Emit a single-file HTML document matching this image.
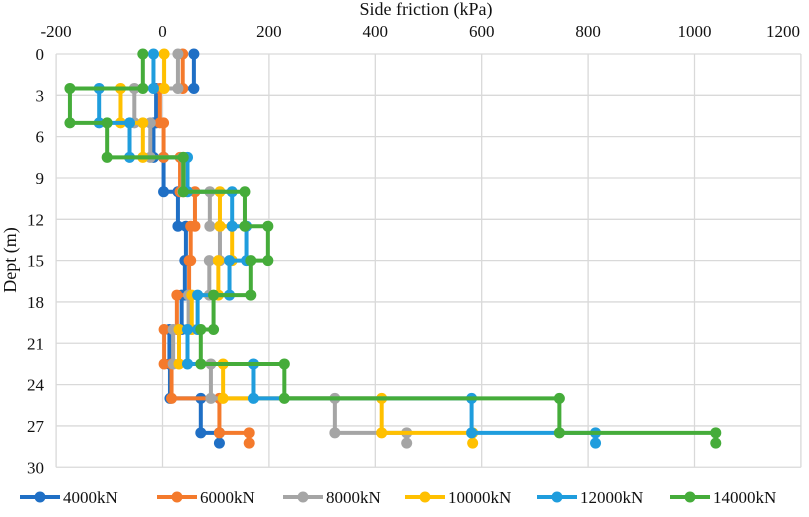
<!DOCTYPE html>
<html><head><meta charset="utf-8"><style>
body{margin:0;background:#fff}
svg text{font-family:"Liberation Serif",serif;fill:#111}
</style></head><body>
<svg id="c" width="809" height="512">
<text x="426" y="15" font-size="18" text-anchor="middle">Side  friction (kPa)</text>
<text x="0" y="0" font-size="18" text-anchor="middle" transform="translate(16,260) rotate(-90)">Dept (m)</text>
</svg>
<script>
const xTicks=[-200,0,200,400,600,800,1000,1200];
const yTicks=[0,3,6,9,12,15,18,21,24,27,30];
const depths=[0,2.5,5,7.5,10,12.5,15,17.5,20,22.5,25,27.5,28.25];
const seriesNames=["4000kN","6000kN","8000kN","10000kN","12000kN","14000kN"];
const s4000=[59,-12,-17,2,29,44,42,36,13,14,72,107];
const s6000=[38,-5,2,33,61,53,50,27,3,17,107,163];
const s8000=[29,-53,-23,38,89,108,88,49,20,91,324,459];
const s10000=[3,-79,-37,40,108,131,105,55,31,114,412,583];
const s12000=[-17,-119,-62,47,131,158,126,66,47,171,581,814];
const s14000=[-37,-174,-104,39,155,198,166,96,72,229,746,1040];
const seriesVals=[s4000,s6000,s8000,s10000,s12000,s14000];
const colors=["#1f6fc5","#f47a2c","#a5a5a5","#ffc000","#1f9ddd","#45ac3a"];
const X=v=>162.5+(v)*0.532, Y=d=>54+d*13.775;
const svg=document.getElementById('c'),NS="http://www.w3.org/2000/svg";
function mk(t,a,p){const e=document.createElementNS(NS,t);for(const k in a)e.setAttribute(k,a[k]);(p||svg).appendChild(e);return e;}
xTicks.forEach((v,i)=>{
 const l=mk('line',{x1:X(v),x2:X(v),y1:Y(0),y2:Y(30),stroke:'#d9d9d9','stroke-width':1.3});
 
 
 const last=i===xTicks.length-1;
 const t=mk('text',{x:last?800:X(v),y:37,'font-size':17,'text-anchor':last?'end':'middle'});t.textContent=v;
 
 
});
yTicks.forEach(v=>{
 const l=mk('line',{x1:X(-200),x2:X(1200),y1:Y(v),y2:Y(v),stroke:'#d9d9d9','stroke-width':1.3});
 
 
 const t=mk('text',{x:44,y:Y(v)+6,'font-size':17,'text-anchor':'end'});t.textContent=v;
 
 
});
seriesVals.forEach((vals,si)=>{
 const g=mk('g',{});
 
 
 let d='';
 vals.forEach((v,i)=>{d+=(i?'L':'M')+X(v)+','+Y(depths[i])+'L'+X(v)+','+Y(depths[i+1]);});
 mk('path',{d:d,fill:'none',stroke:colors[si],'stroke-width':4},g);
 vals.forEach((v,i)=>{[depths[i],depths[i+1]].forEach(dd=>{
  const c=mk('circle',{cx:X(v),cy:Y(dd),r:5.5,fill:colors[si]},g);
  
  
 });});
});
const legX=[20,157,283,405,537,670];
seriesNames.forEach((n,i)=>{
 const g=mk('g',{});
 
 
 mk('line',{x1:legX[i],x2:legX[i]+40,y1:497,y2:497,stroke:colors[i],'stroke-width':4},g);
 mk('circle',{cx:legX[i]+20,cy:497,r:5.5,fill:colors[i]},g);
 const t=mk('text',{x:legX[i]+43,y:503,'font-size':17},g);t.textContent=n;
});
</script>
</body></html>
